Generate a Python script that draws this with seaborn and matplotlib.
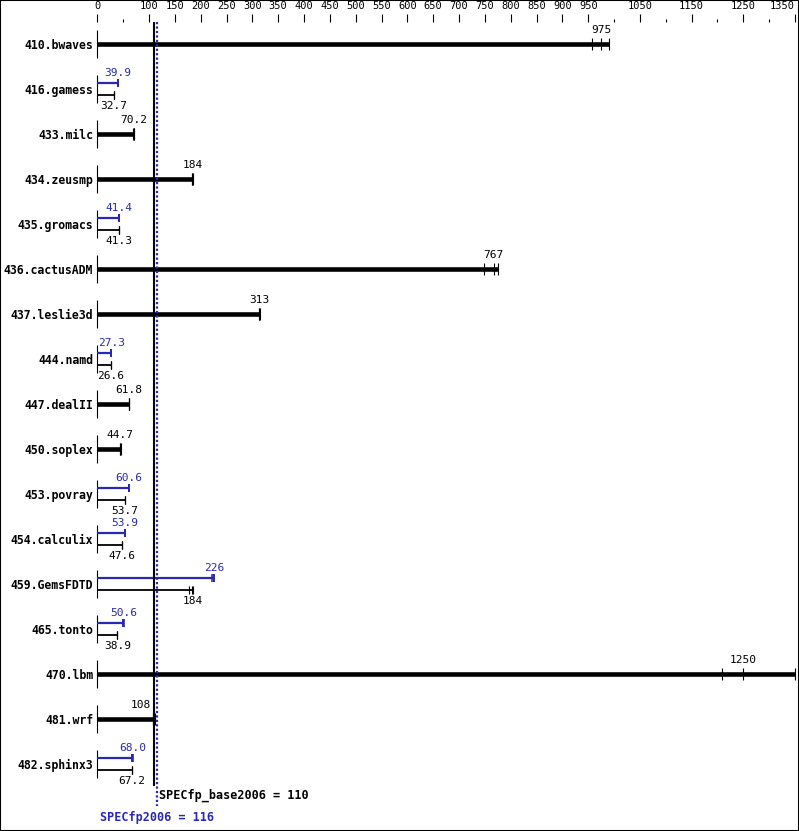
import matplotlib
matplotlib.use("Agg")
import matplotlib.pyplot as plt
from matplotlib.patches import Rectangle
import seaborn as sns
import pandas as pd

# dane z wykresu
benchmarks = ['410.bwaves', '416.gamess', '433.milc', '434.zeusmp', '435.gromacs',
              '436.cactusADM', '437.leslie3d', '444.namd', '447.dealII', '450.soplex',
              '453.povray', '454.calculix', '459.GemsFDTD', '465.tonto', '470.lbm',
              '481.wrf', '482.sphinx3']
base_ratio = [975, 32.7, 70.2, 184, 41.3, 767, 313, 26.6, 61.8, 44.7,
              53.7, 47.6, 184, 38.9, 1250, 108, 67.2]
peak_ratio = [None, 39.9, None, None, 41.4, None, None, 27.3, None, None,
              60.6, 53.9, 226, 50.6, None, None, 68.0]
base_runs = [[958, 975, 991], [32.5, 32.7, 32.8], [69.3, 70.2, 71.8], [183.5, 184, 185.5],
             [41.2, 41.3, 41.4], [748, 767, 776], [312, 313, 314], [26.5, 26.6, 26.7],
             [61.6, 61.8, 62.0], [44.5, 44.7, 44.9], [53.5, 53.7, 53.9], [47.4, 47.6, 47.8],
             [177, 184, 184.5], [38.8, 38.9, 39.0], [1208, 1250, 1350], [107.5, 108, 111],
             [67.0, 67.2, 67.4]]
peak_runs = [None, [39.8, 39.9, 40.6], None, None, [41.3, 41.4, 41.5], None, None,
             [27.2, 27.3, 27.4], None, None, [60.4, 60.6, 60.8], [53.7, 53.9, 54.1],
             [222, 226, 226.5], [50.4, 50.6, 50.8], None, None, [67.8, 68.0, 68.2]]
base_score = 110
peak_score = 116
major_ticks = [0, 100, 150, 200, 250, 300, 350, 400, 450, 500, 550, 600, 650, 700,
               750, 800, 850, 900, 950, 1050, 1150, 1250, 1350]
minor_ticks = [50, 1000, 1100, 1200, 1300]

BLUE = '#2828b4'
MONO = 'DejaVu Sans Mono'

sns.set_style('white')
plt.rcParams['font.family'] = [MONO]
plt.rcParams['text.color'] = 'black'
plt.rcParams['xtick.color'] = 'black'
plt.rcParams['ytick.color'] = 'black'
plt.rcParams['axes.labelcolor'] = 'black'

fig = plt.figure(figsize=(7.99, 8.31), dpi=100)
ax = fig.add_axes([97.3 / 799, 0, 697.7 / 799, 809 / 831])
ax.set_xlim(0, 1350)
ax.set_ylim(17.489, -0.489)
for s in ax.spines.values():
    s.set_visible(False)

# punkty pojedynczych przebiegów
rows = []
for i in range(len(benchmarks)):
    both = peak_ratio[i] is not None
    yb = i + 0.133 if both else i
    for v in base_runs[i]:
        rows.append({'x': v, 'y': yb, 'kind': 'base_pair' if both else 'base'})
    if both:
        for v in peak_runs[i]:
            rows.append({'x': v, 'y': i - 0.133, 'kind': 'peak'})
runs = pd.DataFrame(rows)

for i, name in enumerate(benchmarks):
    ax.vlines(0, i - 0.31, i + 0.31, color='black', lw=0.8, clip_on=False)
    if peak_ratio[i] is None:
        ax.hlines(i, 0, max(base_runs[i]), color='black', lw=3.3, clip_on=False)
        # etykieta odsunięta od linii średniej, gdy na nią nachodzi
        dx = -9 if abs(base_ratio[i] - base_score) < 10 else 0
        ax.annotate(f'{base_ratio[i]:g}', (base_ratio[i], i), xytext=(dx, 6.5),
                    textcoords='offset points', ha='center', va='bottom', fontsize=8)
    else:
        ax.hlines(i - 0.133, 0, max(peak_runs[i]), color=BLUE, lw=1.6, clip_on=False)
        ax.hlines(i + 0.133, 0, max(base_runs[i]), color='black', lw=1.3, clip_on=False)
        ax.annotate(f'{peak_ratio[i]:.1f}' if peak_ratio[i] < 100 else f'{peak_ratio[i]:g}',
                    (peak_ratio[i], i - 0.133), xytext=(0, 3.5), textcoords='offset points',
                    ha='center', va='bottom', fontsize=8, color=BLUE)
        ax.annotate(f'{base_ratio[i]:g}', (base_ratio[i], i + 0.133), xytext=(0, -4),
                    textcoords='offset points', ha='center', va='top', fontsize=8)

sns.scatterplot(data=runs[runs['kind'] == 'base'], x='x', y='y', marker='|', s=75,
                color='black', linewidth=0.8, ax=ax, legend=False, clip_on=False)
sns.scatterplot(data=runs[runs['kind'] == 'base_pair'], x='x', y='y', marker='|', s=40,
                color='black', linewidth=0.8, ax=ax, legend=False, clip_on=False)
sns.scatterplot(data=runs[runs['kind'] == 'peak'], x='x', y='y', marker='|', s=40,
                color=BLUE, linewidth=1.2, ax=ax, legend=False, clip_on=False)

# linie średnich
ax.vlines(base_score, -0.489, 16.49, color='black', lw=1.5)
ax.vlines(peak_score, -0.489, 16.93, color=BLUE, lw=1.6, linestyles=(0, (1, 1)))
ax.annotate(f'SPECfp_base2006 = {base_score}', (peak_score, 16.69), xytext=(1.5, 0),
            textcoords='offset points', ha='left', va='center', fontsize=8.5,
            fontweight='bold')
ax.text(peak_score, 17.18, f'SPECfp2006 = {peak_score}', ha='center', va='center',
        fontsize=8.5, fontweight='bold', color=BLUE)

# osie
ax.set_xlabel('')
ax.set_ylabel('')
ax.xaxis.tick_top()
ax.set_xticks(major_ticks, [str(t) for t in major_ticks])
ax.set_xticks(minor_ticks, minor=True)
ax.tick_params(axis='x', which='major', length=5.8, width=0.8, direction='out',
               labelsize=7.5, pad=2)
ax.tick_params(axis='x', which='minor', length=2.2, width=0.8, direction='out')
ax.get_xticklabels()[-1].set_horizontalalignment('right')
ax.set_yticks(range(len(benchmarks)), benchmarks)
ax.tick_params(axis='y', length=0, pad=3, labelsize=8.3)
for lab in ax.get_yticklabels():
    lab.set_fontweight('bold')

fig.patches.append(Rectangle((0, 0), 1, 1, transform=fig.transFigure, fill=False,
                             edgecolor='black', lw=1.5))

fig.savefig('out.png', dpi=100)
